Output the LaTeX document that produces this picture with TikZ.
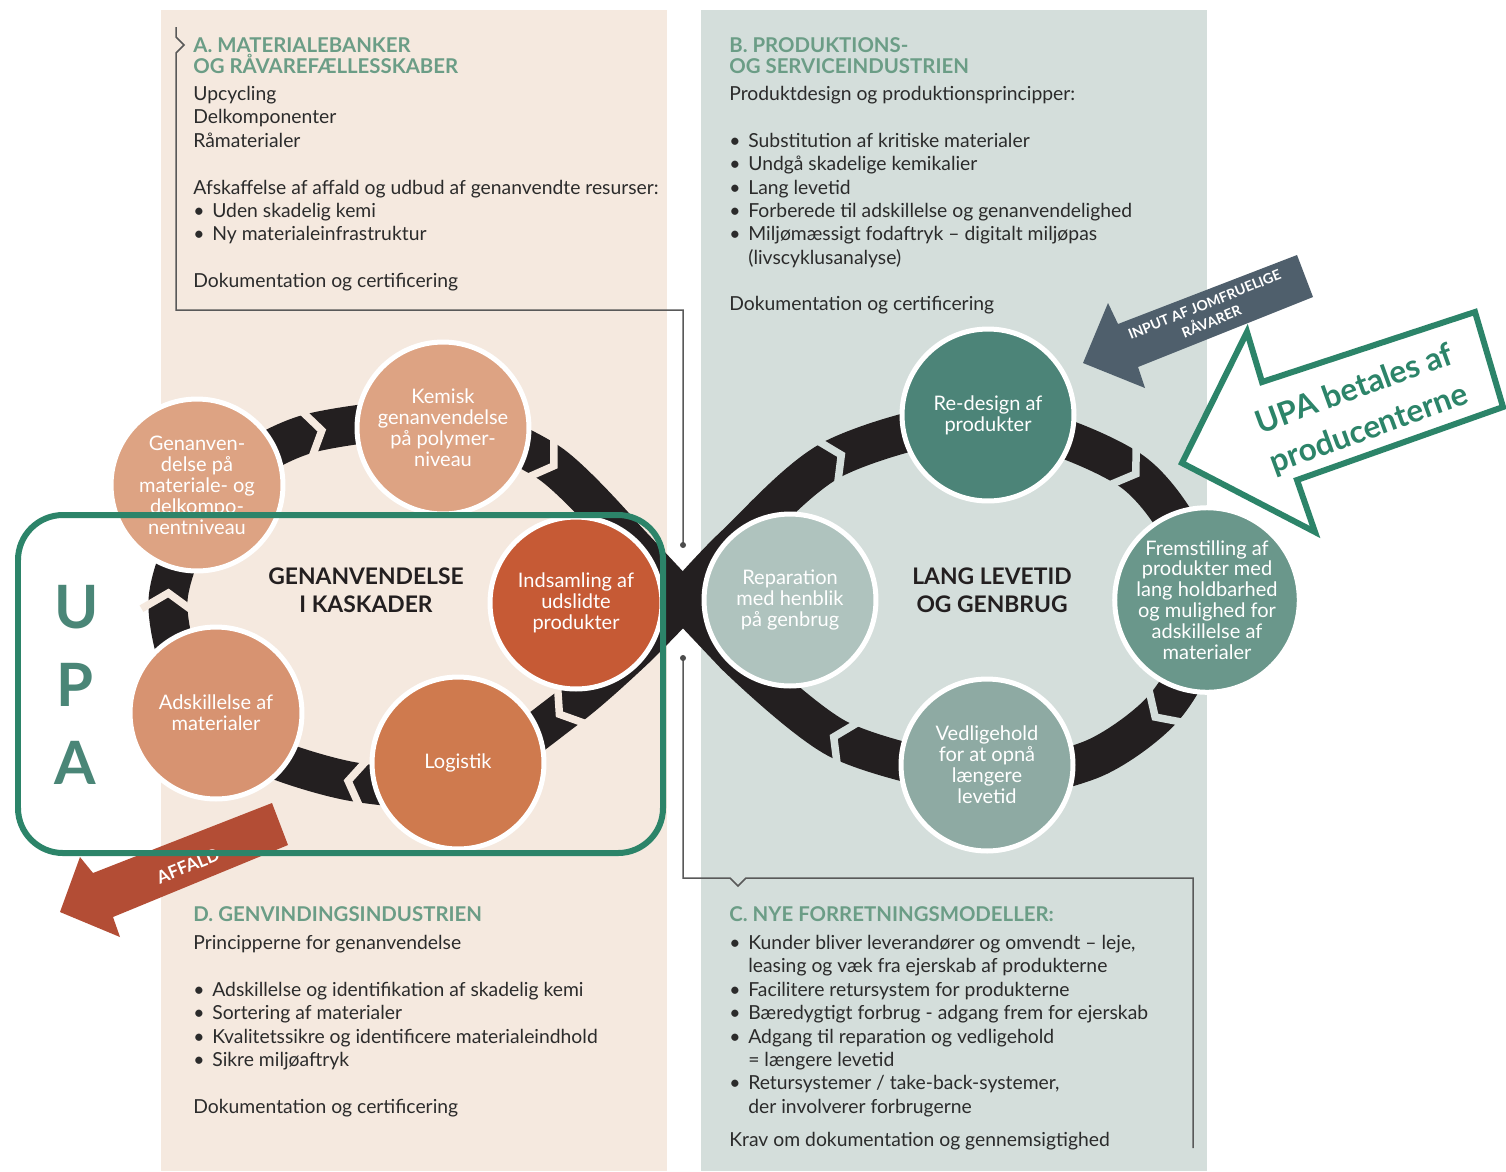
\documentclass[tikz,border=0pt]{standalone}
\usepackage{fontspec}
\setmainfont{Lato}

\definecolor{panelA}{HTML}{F5E9DF}
\definecolor{panelB}{HTML}{D4DEDB}
\definecolor{headgreen}{HTML}{6B9D86}
\definecolor{bodytext}{HTML}{2B2B2B}
\definecolor{bandblack}{HTML}{231F20}
\definecolor{upagreen}{HTML}{2C8469}
\definecolor{upaletter}{HTML}{4A8677}
\definecolor{inputgrey}{HTML}{4F5F6C}
\definecolor{affaldred}{HTML}{B34D35}
\definecolor{cKemisk}{HTML}{DDA383}
\definecolor{cGenanv}{HTML}{DDA383}
\definecolor{cAdskil}{HTML}{D79371}
\definecolor{cLogist}{HTML}{CF7A4E}
\definecolor{cIndsaml}{HTML}{C65A35}
\definecolor{cRedesign}{HTML}{4C8478}
\definecolor{cFremst}{HTML}{6A978B}
\definecolor{cVedlig}{HTML}{8EAAA3}
\definecolor{cRepar}{HTML}{AFC3BE}

\newcommand\bul{\makebox[0.38cm][l]{\textbullet}}
\newcommand\ind{\hspace*{0.38cm}}

\tikzset{
  head/.style={anchor=north west, inner sep=0pt, align=left, text=headgreen, font=\fontsize{11.6}{11.9}\selectfont\bfseries},
  body/.style={anchor=north west, inner sep=0pt, align=left, text=bodytext, font=\fontsize{11}{13.3}\selectfont},
  stage/.style={circle, draw=white, line width=0.1cm, minimum size=3.44cm, inner sep=0pt, align=center, text=white, font=\fontsize{11.4}{11.9}\selectfont},
  loopband/.style={draw=bandblack, line width=0.78cm, line join=miter},
  hub/.style={align=center, text=bandblack, font=\fontsize{13}{15.9}\selectfont\bfseries},
  leader/.style={draw=black!65, line width=0.03cm},
  upaltr/.style={text=upaletter, font=\fontsize{34}{34}\selectfont\bfseries},
  chev/.pic={\draw[line width=0.15cm] (-10,-26) -- (7,0) -- (-10,26);},
}

\begin{document}
\begin{tikzpicture}[x=0.02cm, y=-0.02cm]
\useasboundingbox (0,0) rectangle (1506,1171);
\fill[white] (0,0) rectangle (1506,1171);

% panels
\fill[panelA] (161,10) rectangle (667,1171);
\fill[panelB] (701,10) rectangle (1207,1171);

% leader lines
\coordinate (dotA) at (683,545);
\coordinate (dotC) at (683,658);
\draw[leader] (176,27) -- (176,37) -- (184,45) -- (176,53) -- (176,310) -- (683,310) -- (dotA);
\fill[black!70] (dotA) circle (0.06cm);
\draw[leader] (dotC) -- (683,878) -- (730,878) -- (738,886) -- (746,878) -- (1193,878) -- (1193,1148);
\fill[black!70] (dotC) circle (0.06cm);

% text blocks
\node[head] (headA) at (193,37) {A. MATERIALEBANKER\\OG RÅVAREFÆLLESSKABER};
\node[body] (textA) at (193,86) {Upcycling\\Delkomponenter\\Råmaterialer\\[13.3pt]
  Afskaffelse af affald og udbud af genanvendte resurser:\\\bul Uden skadelig kemi\\\bul Ny materialeinfrastruktur\\[13.3pt]
  Dokumentation og certificering};

\node[head] (headB) at (729,37) {B. PRODUKTIONS-\\OG SERVICEINDUSTRIEN};
\node[body] (textB) at (729,86) {Produktdesign og produktionsprincipper:\\[13.3pt]
  \bul Substitution af kritiske materialer\\\bul Undgå skadelige kemikalier\\\bul Lang levetid\\
  \bul Forberede til adskillelse og genanvendelighed\\\bul Miljømæssigt fodaftryk – digitalt miljøpas\\\ind (livscyklusanalyse)\\[13.3pt]
  Dokumentation og certificering};

\node[head] (headD) at (193,906) {D. GENVINDINGSINDUSTRIEN};
\node[body] (textD) at (193,935) {Principperne for genanvendelse\\[13.3pt]
  \bul Adskillelse og identifikation af skadelig kemi\\\bul Sortering af materialer\\
  \bul Kvalitetssikre og identificere materialeindhold\\\bul Sikre miljøaftryk\\[13.3pt]
  Dokumentation og certificering};

\node[head] (headC) at (729,906) {C. NYE FORRETNINGSMODELLER:};
\node[body] (textC) at (729,935) {\bul Kunder bliver leverandører og omvendt – leje,\\\ind leasing og væk fra ejerskab af produkterne\\
  \bul Facilitere retursystem for produkterne\\\bul Bæredygtigt forbrug - adgang frem for ejerskab\\
  \bul Adgang til reparation og vedligehold\\\ind = længere levetid\\
  \bul Retursystemer / take-back-systemer,\\\ind der involverer forbrugerne\\[5.4pt]
  Krav om dokumentation og gennemsigtighed};

% the two loops
\draw[loopband] plot[smooth] coordinates {(683,600) (632,652) (565,710) (458,782) (355,782) (250,748) (190,690) (168,600) (200,510) (245,465) (315,432) (443,420) (548,462) (625,538)} -- cycle;
\draw[loopband] plot[smooth] coordinates {(683,600) (735,545) (835,458) (988,420) (1130,470) (1195,560) (1195,650) (1160,712) (1090,760) (988,778) (840,740) (735,655)} -- cycle;

% chevron cuts
\pic[rotate=217, color=panelA] at (565,710) {chev};
\pic[rotate=171, color=panelA] at (355,782) {chev};
\pic[rotate=87, color=panelA] at (168,600) {chev};
\pic[rotate=13, color=panelA] at (315,432) {chev};
\pic[rotate=-33, color=panelA] at (548,462) {chev};
\pic[rotate=26, color=panelB] at (835,458) {chev};
\pic[rotate=-34, color=panelB] at (1130,470) {chev};
\pic[rotate=-134, color=panelB] at (1160,712) {chev};
\pic[rotate=154, color=panelB] at (840,740) {chev};

% affald arrow
\fill[affaldred] (272,803) -- (288,845) -- (113,917) -- (120,937) -- (60,912) -- (80,857) -- (93,873) -- cycle;
\node[rotate=22, text=white, font=\fontsize{10}{10}\selectfont\bfseries] (affald) at (188,866) {AFFALD};

% stages
\node[stage, fill=cKemisk] (kemisk) at (443,428) {Kemisk\\genanvendelse\\på polymer-\\niveau};
\node[stage, fill=cGenanv] (genanv) at (197,485) {Genanven-\\delse på\\materiale- og\\delkompo-\\nentniveau};
\node[stage, fill=cIndsaml] (indsaml) at (576,603) {Indsamling af\\udslidte\\produkter};
\node[stage, fill=cAdskil] (adskil) at (216,713) {Adskillelse af\\materialer};
\node[stage, fill=cLogist] (logistik) at (458,763) {Logistik};
\node[stage, fill=cRedesign] (redesign) at (988,415) {Re-design af\\produkter};
\node[stage, fill=cRepar] (reparation) at (790,600) {Reparation\\med henblik\\på genbrug};
\node[stage, fill=cFremst] (fremst) at (1207,600) {Fremstilling af\\produkter med\\lang holdbarhed\\og mulighed for\\adskillelse af\\materialer};
\node[stage, fill=cVedlig] (vedlig) at (987,765) {Vedligehold\\for at opnå\\længere\\levetid};

\node[hub] (hubL) at (366,590) {GENANVENDELSE\\I KASKADER};
\node[hub] (hubR) at (992,590) {LANG LEVETID\\OG GENBRUG};

% input arrow
\fill[inputgrey] (1083,363) -- (1108,303) -- (1118,324) -- (1297,255) -- (1313,297) -- (1138,367) -- (1145,388) -- cycle;
\node[rotate=22, align=center, text=white, font=\fontsize{8}{10.5}\selectfont\bfseries] (input) at (1208,313) {INPUT AF JOMFRUELIGE\\RÅVARER};

% UPA box
\draw[upagreen, line width=0.12cm, rounded corners=0.9cm] (18,515) rectangle (663,853);
\node[upaltr] (upaU) at (77,607) {U};
\node[upaltr] (upaP) at (75,685) {P};
\node[upaltr] (upaA) at (75,763) {A};

% callout
\draw[upagreen, line width=0.12cm, fill=white, line join=miter] (1262,382) -- (1475,312) -- (1503,407) -- (1297,480) -- (1315,532) -- (1182,463) -- (1247,332) -- cycle;
\node[rotate=20, align=center, text=upagreen, font=\fontsize{18}{24}\selectfont\bfseries] (callout) at (1362,410) {UPA betales af\\producenterne};
\end{tikzpicture}
\end{document}
